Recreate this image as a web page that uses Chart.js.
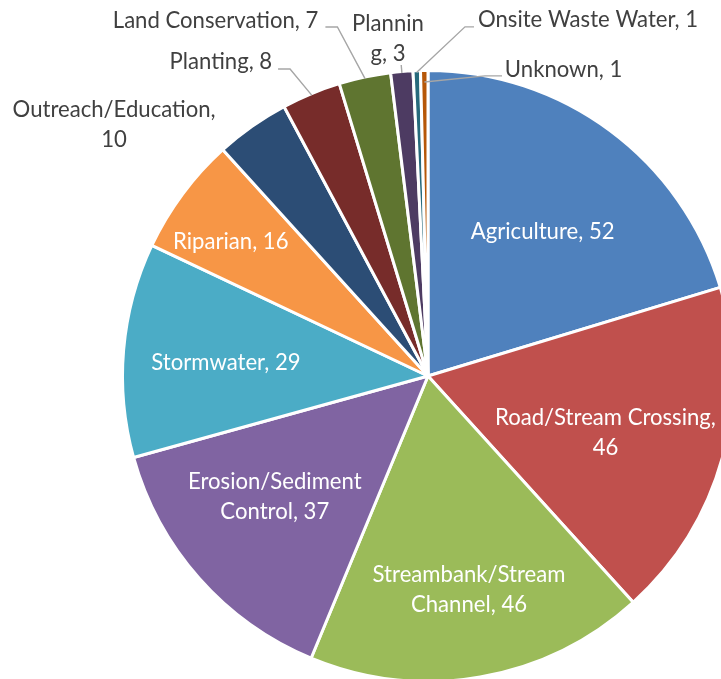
<!DOCTYPE html>
<html>
<head>
<meta charset="utf-8">
<script src="https://cdn.jsdelivr.net/npm/chart.js@4.4.1/dist/chart.umd.min.js"></script>
<style>
  html, body { margin: 0; padding: 0; background: #ffffff; overflow: hidden; }
  #wrap { position: absolute; left: 0; top: 0; width: 760px; height: 700px; }
</style>
</head>
<body>
<div id="wrap"><canvas id="c"></canvas></div>
<script>
// ---- data ----
const categories = ['Agriculture', 'Road/Stream Crossing', 'Streambank/Stream Channel',
  'Erosion/Sediment Control', 'Stormwater', 'Riparian', 'Outreach/Education', 'Planting',
  'Land Conservation', 'Planning', 'Onsite Waste Water', 'Unknown'];
const values = [52, 46, 46, 37, 29, 16, 10, 8, 7, 3, 1, 1];
const sliceColors = ['#4F81BD', '#C0504D', '#9BBB59', '#8064A2', '#4BACC6', '#F79646',
  '#2C4D75', '#772C2A', '#5F7530', '#4D3B62', '#276A7C', '#B65708'];

// ---- label layout (polar, relative to each slice's mid angle and the pie radius) ----
const labelLayout = [
  { inside: true, d: 2.0, r: 0.605 },
  { inside: true, d: 2.3, r: 0.613, wrap: 21 },
  { inside: true, d: -1.0, r: 0.717, wrap: 17 },
  { inside: true, d: 3.2, r: 0.642, wrap: 16 },
  { inside: true, d: -1.2, r: 0.666 },
  { inside: true, d: -2.4, r: 0.784 },
  { d: -16.2, r: 1.322, align: 'center', wrap: 19 },
  { d: -3.9, r: 1.153, align: 'right', leader: { r0: 1.0, ed: -1.7, er: 1.107, h: -12 } },
  { d: -5.2, r: 1.223, align: 'right', leader: { r0: 1.0, ed: -2.6, er: 1.186, h: -12 } },
  { d: -1.85, r: 1.116, align: 'center', wrap: 7, leader: { r0: 1.0, ed: 0, er: 1.027, h: 0 } },
  { d: 10.1, r: 1.183, align: 'left', leader: { r0: 1.0, ed: 8.16, er: 1.155, h: 9 } },
  { d: 14.8, r: 1.038, align: 'left', leader: { r0: 0.967, ed: 11.46, er: 1.005, h: 17 } }
];

const BORDER = 3;
const FONT_FAMILY = 'Lato, "Open Sans", sans-serif';
const LINE_H = 30;

function fitFontSize(ctx) {
  ctx.font = '24px ' + FONT_FAMILY;
  const w = ctx.measureText('Road/Stream Crossing,').width;
  return 24 * 221 / w;
}

const labelPlugin = {
  id: 'sliceLabels',
  afterDatasetsDraw(chart) {
    const ctx = chart.ctx;
    const meta = chart.getDatasetMeta(0);
    const fs = fitFontSize(ctx);
    ctx.save();
    ctx.font = fs.toFixed(2) + 'px ' + FONT_FAMILY;
    ctx.textBaseline = 'middle';
    meta.data.forEach((arc, i) => {
      const p = arc.getProps(['x', 'y', 'startAngle', 'endAngle', 'outerRadius'], true);
      const R = p.outerRadius - BORDER / 2;
      const mid = (p.startAngle + p.endAngle) / 2;
      const pt = (deltaDeg, rf) => {
        const a = mid + deltaDeg * Math.PI / 180;
        return { x: p.x + Math.cos(a) * R * rf, y: p.y + Math.sin(a) * R * rf };
      };
      const L = labelLayout[i];
      const full = categories[i] + ', ' + values[i];
      const lines = L.wrap ? [full.slice(0, L.wrap).trim(), full.slice(L.wrap).trim()] : [full];
      if (L.leader) {
        const s = pt(0, L.leader.r0);
        const e = pt(L.leader.ed, L.leader.er);
        ctx.beginPath();
        ctx.strokeStyle = '#A6A6A6';
        ctx.lineWidth = 1.4;
        ctx.moveTo(s.x, s.y);
        ctx.lineTo(e.x, e.y);
        if (L.leader.h) ctx.lineTo(e.x + L.leader.h, e.y);
        ctx.stroke();
      }
      const c = pt(L.d, L.r);
      ctx.fillStyle = L.inside ? '#FFFFFF' : '#404040';
      ctx.textAlign = L.align || 'center';
      const y0 = c.y - (lines.length - 1) * LINE_H / 2;
      lines.forEach((ln, k) => ctx.fillText(ln, c.x, y0 + k * LINE_H));
    });
    ctx.restore();
  }
};

new Chart(document.getElementById('c'), {
  type: 'pie',
  data: {
    labels: categories,
    datasets: [{
      data: values,
      backgroundColor: sliceColors,
      borderColor: '#FFFFFF',
      borderWidth: BORDER,
      hoverOffset: 0,
      offset: 0
    }]
  },
  options: {
    responsive: true,
    maintainAspectRatio: false,
    animation: false,
    events: [],
    layout: { padding: { left: 121, top: 69, right: 25, bottom: 17 } },
    plugins: { legend: { display: false }, tooltip: { enabled: false }, title: { display: false } }
  },
  plugins: [labelPlugin]
});
</script>
</body>
</html>
